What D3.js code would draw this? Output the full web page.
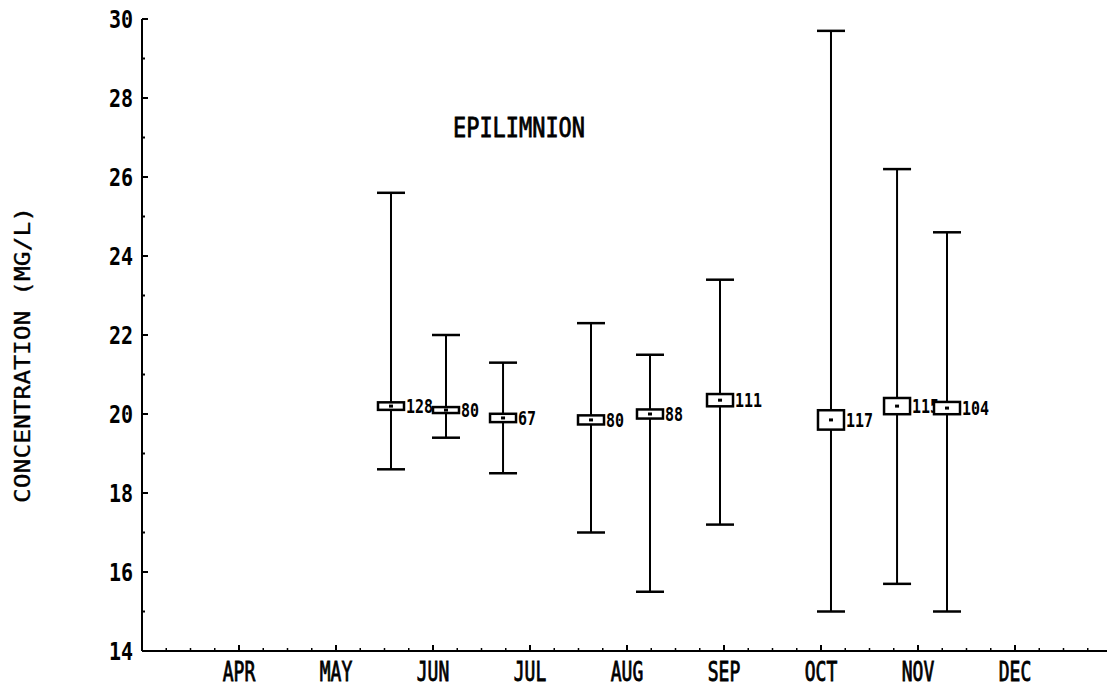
<!DOCTYPE html>
<html><head><meta charset="utf-8">
<script src="https://cdn.jsdelivr.net/npm/d3@7"></script>
<style>
html,body{margin:0;padding:0;background:#fff;}
svg{display:block;}
text{font-family:"DejaVu Sans Mono",monospace;font-weight:bold;fill:#000;}
</style></head>
<body>
<script>
// ---- data ----
const monthLabels = ["", "APR", "MAY", "JUN", "JUL", "AUG", "SEP", "OCT", "NOV", "DEC"];
const yTicks = [14, 16, 18, 20, 22, 24, 26, 28, 30];
const samplePos = [2.567, 3.134, 3.722, 4.629, 5.237, 5.959, 7.103, 7.784, 8.299]; // in months from MAR
const meanVals = [20.2, 20.1, 19.9, 19.85, 20.0, 20.35, 19.85, 20.2, 20.15];
const maxVals  = [25.6, 22.0, 21.3, 22.3, 21.5, 23.4, 29.7, 26.2, 24.6];
const minVals  = [18.6, 19.4, 18.5, 17.0, 15.5, 17.2, 15.0, 15.7, 15.0];
const boxHalf  = [0.07, 0.05, 0.08, 0.09, 0.09, 0.13, 0.22, 0.18, 0.13];
const counts   = ["128", "80", "67", "80", "88", "111", "117", "115", "104"];
const title = "EPILIMNION";
const yTitle = "CONCENTRATION (MG/L)";

const W = 1107, H = 689;
const svg = d3.select("body").append("svg").attr("width", W).attr("height", H);

const x = d3.scaleLinear().domain([0, 10]).range([142, 1112]);
const y = d3.scaleLinear().domain([14, 30]).range([651, 19]);

function tallText(g, str, px, py, size, sy, anchor) {
  return g.append("text")
    .attr("transform", `translate(${px},${py}) scale(1,${sy})`)
    .attr("text-anchor", anchor || "middle")
    .attr("dominant-baseline", "central")
    .style("font-size", size + "px")
    .text(str);
}

// axes lines
svg.append("line").attr("x1", x(0)).attr("x2", x(0)).attr("y1", y(30)).attr("y2", y(14))
  .attr("stroke", "#000").attr("stroke-width", 2);
svg.append("line").attr("x1", x(0)).attr("x2", W).attr("y1", y(14)).attr("y2", y(14))
  .attr("stroke", "#000").attr("stroke-width", 2);

// y ticks
const yMinor = d3.range(15, 30, 2);
svg.selectAll(".ymaj").data(yTicks).join("line")
  .attr("x1", x(0)).attr("x2", x(0) + 6).attr("y1", d => y(d)).attr("y2", d => y(d))
  .attr("stroke", "#000").attr("stroke-width", 2);
svg.selectAll(".ymin").data(yMinor).join("line")
  .attr("x1", x(0)).attr("x2", x(0) + 3).attr("y1", d => y(d)).attr("y2", d => y(d))
  .attr("stroke", "#000").attr("stroke-width", 2);
yTicks.forEach(v => tallText(svg, String(v), 133, y(v), 20, 1.2, "end"));

// x ticks
const xMinor = d3.range(0, 10.01, 0.25);
svg.selectAll(".xmin").data(xMinor).join("line")
  .attr("x1", d => x(d)).attr("x2", d => x(d)).attr("y1", y(14)).attr("y2", y(14) - 3)
  .attr("stroke", "#000").attr("stroke-width", 1.5);
svg.selectAll(".xmaj").data(d3.range(1, 10)).join("line")
  .attr("x1", d => x(d)).attr("x2", d => x(d)).attr("y1", y(14)).attr("y2", y(14) - 6)
  .attr("stroke", "#000").attr("stroke-width", 2);
monthLabels.forEach((m, i) => { if (m) tallText(svg, m, x(i), 672, 18, 1.45, "middle").style("font-weight", "normal").style("stroke", "#000").style("stroke-width", 0.6); });

// titles
tallText(svg, title, 519, 127, 20, 1.3, "middle")
  .attr("textLength", 132).attr("lengthAdjust", "spacingAndGlyphs")
  .style("font-weight", "normal").style("stroke", "#000").style("stroke-width", 0.6);
svg.append("text")
  .attr("transform", `translate(23,355) rotate(-90) scale(1,1.15)`)
  .attr("text-anchor", "middle").attr("dominant-baseline", "central")
  .attr("textLength", 296).attr("lengthAdjust", "spacingAndGlyphs")
  .style("font-size", "19px").style("font-weight", "normal")
  .style("stroke", "#000").style("stroke-width", 0.3)
  .text(yTitle);

// error bars
const data = samplePos.map((p, i) => ({p, m: meanVals[i], hi: maxVals[i], lo: minVals[i], b: boxHalf[i], n: counts[i]}));
const capW = 14, boxW = 13;
const g = svg.append("g");
data.forEach(d => {
  const cx = x(d.p);
  g.append("line").attr("x1", cx).attr("x2", cx).attr("y1", y(d.hi)).attr("y2", y(d.lo))
    .attr("stroke", "#000").attr("stroke-width", 2);
  [d.hi, d.lo].forEach(v => g.append("line").attr("x1", cx - capW).attr("x2", cx + capW)
    .attr("y1", y(v)).attr("y2", y(v)).attr("stroke", "#000").attr("stroke-width", 2.5));
  const top = y(d.m + d.b), bot = y(d.m - d.b);
  g.append("rect").attr("x", cx - boxW).attr("width", 2 * boxW)
    .attr("y", top - 1).attr("height", bot - top + 2)
    .attr("fill", "#fff").attr("stroke", "#000").attr("stroke-width", 2.5);
  g.append("rect").attr("x", cx - 2).attr("y", y(d.m) - 1.5).attr("width", 4).attr("height", 3).attr("fill", "#000");
  tallText(g, d.n, cx + boxW + 2, y(d.m), 15, 1.25, "start");
});
</script>
</body></html>
